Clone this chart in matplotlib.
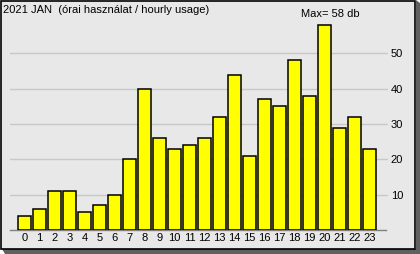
import matplotlib
matplotlib.use("Agg")
import matplotlib.pyplot as plt
from matplotlib.patches import Rectangle, Polygon

hours = [str(h) for h in range(24)]
values = [4, 6, 11, 11, 5, 7, 10, 20, 40, 26, 23, 24, 26, 32, 44, 21, 37, 35, 48, 38, 58, 29, 32, 23]
yticks = [10, 20, 30, 40, 50]
title = "2021 JAN  (órai használat / hourly usage)"
maxlabel = "Max= 58 db"

W, H = 420, 254
fig = plt.figure(figsize=(W / 100, H / 100), dpi=100)
fig.patch.set_facecolor("white")
plt.rcParams['font.family'] = ['Liberation Sans', 'DejaVu Sans']

def fx(px):
    return px / W

def fy(py):
    return 1 - py / H

# shadow
shadow = Polygon([(fx(5), fy(254)), (fx(420), fy(254)), (fx(420), fy(3)),
                  (fx(416), fy(0)), (fx(416), fy(249)), (fx(2), fy(249))],
                 closed=True, transform=fig.transFigure, facecolor="#606060",
                 edgecolor="none", zorder=0)
fig.add_artist(shadow)
panel = Rectangle((fx(0.7), fy(248.5)), fx(414.5), 248 / H, transform=fig.transFigure,
                  facecolor="#E8E8E8", edgecolor="black", linewidth=1.2, zorder=0.5)
fig.add_artist(panel)

# axes: x from 10 to 388 px, y from 18 to 230 px
ax = fig.add_axes([fx(10), fy(230), fx(378), (230 - 18) / H])
ax.set_zorder(2)
ax.set_facecolor("none")
x = list(range(len(values)))
ax.bar(x, values, width=0.83, color="#FFFF00", edgecolor="black", linewidth=1.1, zorder=3)
ax.set_xlim((10 - 24.5) / 15, (388 - 24.5) / 15)
ax.set_ylim(0, 60)
ax.set_xticks(x)
ax.set_xticklabels(hours, fontsize=8)
ax.set_yticks(yticks)
ax.set_yticklabels([str(v) for v in yticks], fontsize=8)
ax.yaxis.tick_right()
ax.tick_params(axis="both", length=0, pad=2)
ax.tick_params(axis="y", pad=2)
ax.grid(axis="y", color="#C8C8C8", linewidth=1.0, zorder=0)
for s in ["top", "left", "right"]:
    ax.spines[s].set_visible(False)
ax.spines["bottom"].set_color("#808080")
ax.spines["bottom"].set_linewidth(1.0)
ax.spines["bottom"].set_bounds((10 - 24.5) / 15, (386 - 24.5) / 15)

fig.text(fx(3), fy(5), title, fontsize=8, ha="left", va="top", zorder=3)
fig.text(fx(301), fy(9), maxlabel, fontsize=8, ha="left", va="top", zorder=3)

fig.savefig("out.png", dpi=100)
